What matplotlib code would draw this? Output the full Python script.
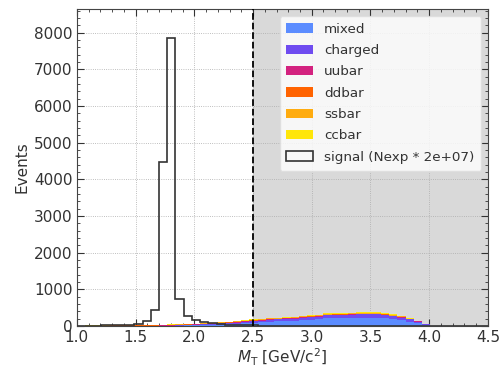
import numpy as np
import matplotlib.pyplot as plt
from matplotlib.ticker import MultipleLocator

# 50 bins de 1.0 a 4.5 GeV/c^2
edges = np.linspace(1.0, 4.5, 51)
centers = 0.5 * (edges[:-1] + edges[1:])

mixed = [0, 0, 0, 0, 0, 0, 0, 0, 0, 0, 2, 5, 10, 15,
         20, 25, 30, 40, 50, 60, 75, 90, 100, 115, 125, 135, 145, 160,
         175, 180, 210, 215, 215, 220, 225, 225, 225, 210, 185, 160, 120, 75,
         25, 3, 0, 0, 0, 0, 0, 0]
charged = [0, 0, 0, 0, 0, 0, 0, 0, 0, 0, 2, 5, 10, 15,
           20, 25, 25, 30, 30, 35, 40, 45, 50, 55, 55, 60, 60, 65,
           70, 70, 80, 85, 85, 85, 90, 90, 90, 85, 80, 70, 60, 45,
           20, 3, 0, 0, 0, 0, 0, 0]
uubar = [4, 6, 6, 8, 8, 9, 9, 10, 10, 11, 11, 11, 10, 9,
         8, 8, 8, 9, 9, 10, 10, 10, 10, 11, 11, 11, 11, 12,
         12, 12, 12, 12, 12, 12, 12, 12, 12, 12, 10, 9, 7, 5,
         2, 1, 0, 0, 0, 0, 0, 0]
ddbar = [3, 5, 5, 6, 7, 8, 8, 9, 9, 10, 10, 10, 9, 8,
         7, 7, 7, 8, 8, 9, 9, 9, 9, 10, 10, 10, 10, 11,
         11, 11, 11, 11, 11, 11, 11, 11, 11, 11, 9, 8, 6, 4,
         2, 1, 0, 0, 0, 0, 0, 0]
ssbar = [2, 3, 3, 4, 4, 5, 5, 6, 7, 8, 8, 8, 8, 8,
         8, 8, 9, 10, 10, 11, 12, 13, 14, 15, 15, 16, 16, 17,
         18, 18, 18, 19, 19, 19, 20, 20, 20, 19, 17, 15, 12, 8,
         4, 1, 0, 0, 0, 0, 0, 0]
ccbar = [1, 1, 1, 1, 1, 1, 1, 2, 2, 3, 3, 4, 4, 5,
         6, 7, 8, 9, 10, 11, 12, 13, 14, 15, 15, 16, 16, 17,
         18, 18, 18, 18, 18, 18, 18, 18, 18, 17, 15, 13, 10, 7,
         3, 1, 0, 0, 0, 0, 0, 0]
signal = [0, 5, 10, 15, 20, 25, 35, 60, 140, 440, 4470, 7850, 740, 270,
          160, 100, 80, 60, 40, 30, 20, 15, 10, 5, 0, 0, 0, 0,
          0, 0, 0, 0, 0, 0, 0, 0, 0, 0, 0, 0, 0, 0,
          0, 0, 0, 0, 0, 0, 0, 0]

fondos = [mixed, charged, uubar, ddbar, ssbar, ccbar]
nombres = ["mixed", "charged", "uubar", "ddbar", "ssbar", "ccbar"]
colores = ["#5b8cff", "#6f4cf0", "#d3227f", "#ff6300", "#ffac10", "#ffe60a"]

plt.rcParams["text.color"] = "#333333"
plt.rcParams["axes.labelcolor"] = "#333333"
plt.rcParams["xtick.color"] = "#333333"
plt.rcParams["ytick.color"] = "#333333"

fig, ax = plt.subplots(figsize=(5.02, 3.68), dpi=100)
fig.subplots_adjust(left=0.153, right=0.972, bottom=0.114, top=0.975)

ax.axvspan(2.5, 4.5, color="#d9d9d9", zorder=0)
ax.hist([centers] * 6, bins=edges, weights=fondos, stacked=True,
        color=colores, label=nombres, zorder=2)
ax.hist(centers, bins=edges, weights=signal, histtype="step",
        color="#333333", lw=1.2, label="signal (Nexp * 2e+07)", zorder=3)
ax.axvline(2.5, color="black", ls="--", lw=1.3, zorder=4)

ax.set_xlim(1.0, 4.5)
ax.set_ylim(0, 8640)
ax.set_xlabel(r"$M_{\rm T}$ [GeV/c$^2$]", fontsize=11, labelpad=1)
ax.set_ylabel("Events", fontsize=11, labelpad=3)
ax.xaxis.set_major_locator(MultipleLocator(0.5))
ax.xaxis.set_minor_locator(MultipleLocator(0.1))
ax.yaxis.set_major_locator(MultipleLocator(1000))
ax.yaxis.set_minor_locator(MultipleLocator(200))
ax.tick_params(which="both", direction="in", top=True, right=True,
               labelsize=11, pad=3)
ax.tick_params(which="major", length=5)
ax.tick_params(which="minor", length=2.5)
ax.grid(True, ls=":", color="#aaaaaa", lw=0.6, zorder=1)
ax.set_axisbelow(True)
for s in ax.spines.values():
    s.set_color("#444444")

ax.legend(loc="upper right", fontsize=9.7, framealpha=0.8, edgecolor="#dddddd",
          labelspacing=0.62, borderpad=0.5)

plt.savefig("out.png", dpi=100)
